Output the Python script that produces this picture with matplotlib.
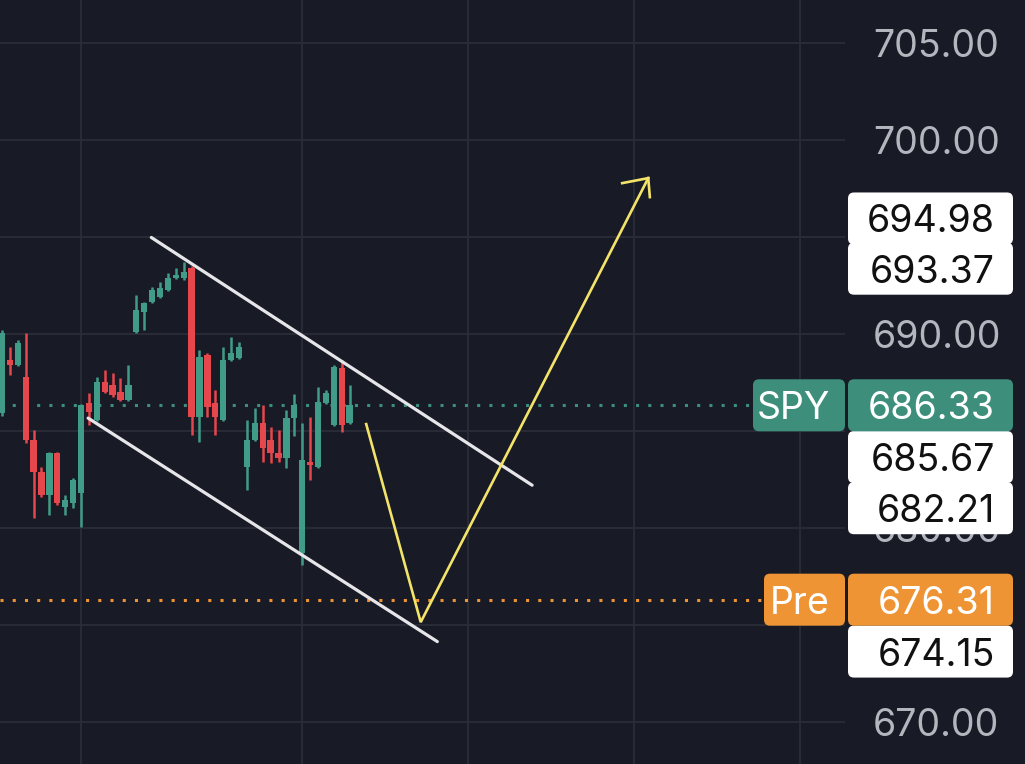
import matplotlib
matplotlib.use("Agg")
import matplotlib.pyplot as plt
from matplotlib.patches import FancyBboxPatch
from matplotlib.transforms import IdentityTransform

# ---- candle data (SPY) ----
opens = [685.93, 688.66, 688.40, 687.78, 684.54, 682.89, 681.70, 683.86, 681.08, 681.29,
         681.80, 686.44, 685.57, 687.52, 687.37, 687.01, 686.60, 690.10, 691.13, 691.65,
         691.91, 692.27, 692.89, 692.89, 693.40, 685.72, 688.92, 686.44, 685.57, 688.66,
         688.76, 683.14, 684.54, 685.41, 684.54, 683.86, 683.61, 685.67, 678.71, 683.40,
         683.14, 686.44, 685.31, 688.25, 685.41]
closes = [690.05, 688.40, 689.54, 684.54, 682.89, 681.70, 683.86, 681.29, 681.44, 682.47,
          686.34, 685.98, 687.52, 687.01, 686.85, 686.60, 687.37, 691.24, 691.60, 692.27,
          692.37, 692.89, 693.04, 693.20, 685.72, 688.81, 686.24, 685.72, 688.66, 689.02,
          689.33, 684.54, 685.41, 684.12, 683.86, 683.61, 685.67, 686.34, 683.50, 683.25,
          686.49, 686.96, 688.30, 685.31, 686.33]
highs = [690.21, 689.33, 689.69, 690.05, 685.05, 683.14, 683.92, 683.92, 681.70, 682.58,
         686.39, 686.96, 687.78, 688.14, 687.99, 687.73, 688.40, 692.01, 691.65, 692.42,
         692.68, 693.14, 693.40, 693.71, 693.50, 689.17, 689.02, 687.11, 689.33, 689.84,
         689.59, 685.57, 686.18, 686.34, 685.20, 685.05, 686.08, 686.91, 685.41, 685.72,
         687.27, 687.11, 688.40, 688.66, 687.37]
lows = [685.77, 687.89, 688.35, 684.38, 680.52, 681.60, 680.67, 681.18, 680.67, 681.03,
        680.05, 685.31, 685.52, 686.96, 686.75, 686.55, 686.55, 690.05, 690.21, 691.60,
        691.86, 692.22, 692.83, 692.78, 684.79, 684.43, 685.72, 684.79, 685.52, 688.61,
        688.71, 681.96, 684.48, 683.40, 683.35, 683.40, 683.09, 684.74, 678.09, 682.47,
        683.09, 686.39, 685.26, 684.95, 685.36]

last_price = 686.33
pre_price = 676.31
level_prices = [694.98, 693.37, 685.67, 682.21, 674.15]
price_ticks = [670, 675, 680, 685, 690, 695, 700, 705]
hidden_ticks = [675, 685, 695]  # covered by the price labels in the app
time_grid = [10, 38, 59, 80, 101]

# drawn channel (bar index, price) and the projected path
upper_channel = ([18.9, 67.1], [694.98, 682.21])
lower_channel = ([10.9, 55.1], [685.67, 674.15])
path_x = [46.1, 53.0, 81.8]
path_y = [685.36, 675.15, 698.04]
head_x = [78.5, 81.8, 82.0]
head_y = [697.78, 698.04, 697.06]

bg = "#181a25"
grid = "#2a2c38"
up = "#409c87"
down = "#e5474c"
teal = "#3d8f7c"
orange = "#ef9434"
yellow = "#f3e469"

fig = plt.figure(figsize=(10.25, 7.64), dpi=100, facecolor=bg)
ax = fig.add_axes([0, 0, 845 / 1025, 1])
ax.set_facecolor(bg)
ax.set_xlim(-0.25, 106.7)
ax.set_ylim(667.84, 707.22)

# candles
idx = list(range(len(opens)))
colors = [up if c >= o else down for o, c in zip(opens, closes)]
ax.vlines(idx, lows, highs, colors=colors, lw=1.8, zorder=3)
bottoms = [min(o, c) for o, c in zip(opens, closes)]
heights = [max(abs(c - o), 0.12) for o, c in zip(opens, closes)]
ax.bar(idx, heights, bottom=bottoms, width=0.8, color=colors, zorder=3)

# price lines
ax.axhline(last_price, color=teal, lw=2.2, linestyle=(0, (1, 3)), zorder=2)
ax.axhline(pre_price, color=orange, lw=2.2, linestyle=(0, (1, 3)), zorder=2)

# drawings
for xs, ys in (upper_channel, lower_channel):
    ax.plot(xs, ys, color="#e6e6ea", lw=2.3, solid_capstyle="round", zorder=4)
ax.plot(path_x, path_y, color=yellow, lw=1.9, solid_joinstyle="miter", zorder=4)
ax.plot(head_x, head_y, color=yellow, lw=1.9, solid_joinstyle="miter", zorder=4)

# grid and price axis
ax.set_xticks(time_grid)
ax.set_yticks(price_ticks)
ax.grid(True, color=grid, lw=1.3)
ax.tick_params(axis="x", length=0, labelbottom=False)
ax.yaxis.set_ticks_position("right")
ax.tick_params(axis="y", length=0, pad=20, labelsize=27, labelcolor="#b4b6be")
ax.set_yticklabels(["" if p in hidden_ticks else f"{p:.2f}" for p in price_ticks],
                   family="Inter")
for s in ax.spines.values():
    s.set_visible(False)

# right-side price labels (pixel layout, stacked so they do not overlap)
def y_px(price):
    return ax.transData.transform((0, price))[1]

box_h = 52
val_x0, val_w = 848, 165
text_x = 995

def label_box(x0, w, yc, face):
    p = FancyBboxPatch((x0, yc - box_h / 2), w, box_h,
                       boxstyle="round,pad=0,rounding_size=6",
                       transform=IdentityTransform(), facecolor=face,
                       edgecolor="none", zorder=5)
    fig.add_artist(p)

def label_text(x, yc, s, color, ha="right"):
    fig.text(x, yc, s, transform=IdentityTransform(), ha=ha, va="center_baseline",
             fontsize=27, color=color, family="Inter", zorder=6)

shifts = [19, 0, -39, -23, -10]
for price, dy in zip(level_prices, shifts):
    yc = y_px(price) + dy
    label_box(val_x0, val_w, yc, "white")
    label_text(text_x, yc, f"{price:.2f}", "#111111")

yc = y_px(last_price)
label_box(753, 92, yc, teal)
label_box(val_x0, val_w, yc, teal)
label_text(830, yc, "SPY", "white")
label_text(text_x, yc, f"{last_price:.2f}", "white")

yc = y_px(pre_price)
label_box(764, 81, yc, orange)
label_box(val_x0, val_w, yc, orange)
label_text(830, yc, "Pre", "white")
label_text(text_x, yc, f"{pre_price:.2f}", "white")

fig.savefig("out.png", dpi=100, facecolor=bg)
